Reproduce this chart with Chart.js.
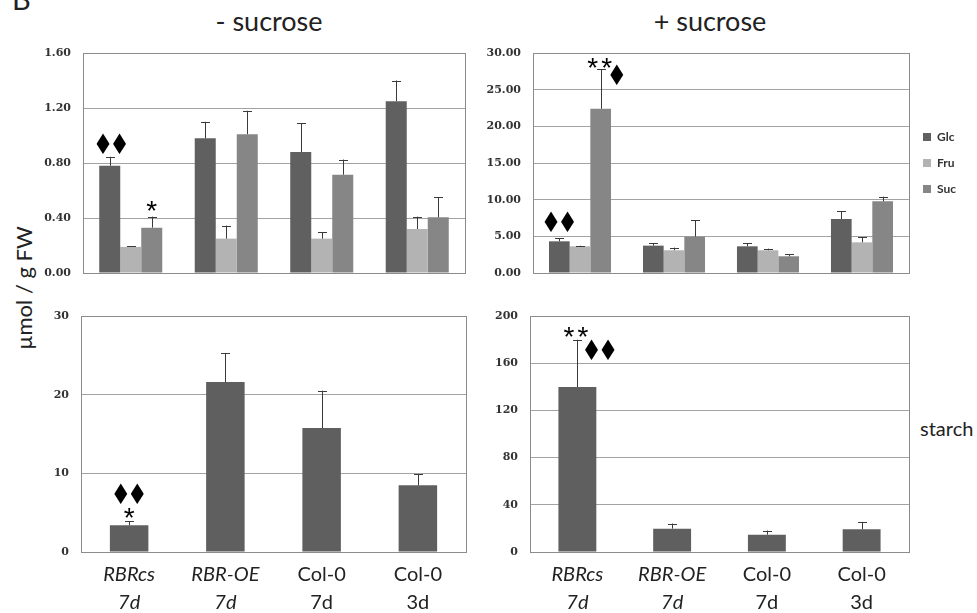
<!DOCTYPE html>
<html>
<head>
<meta charset="utf-8">
<script src="https://cdn.jsdelivr.net/npm/chart.js@4.4.1/dist/chart.umd.min.js"></script>
<style>
  html, body { margin: 0; padding: 0; background: #fff; }
  body { width: 977px; height: 613px; position: relative; overflow: hidden; font-family: Lato, sans-serif; color: #222; }
  canvas { position: absolute; }
  .txt { position: absolute; white-space: nowrap; }
</style>
</head>
<body>
<div class="txt" style="left:12px; top:-16px; font-size:29px; line-height:29px;">B</div>
<div class="txt" style="left:269px; top:4px; font-size:27px; transform:translateX(-50%);">- sucrose</div>
<div class="txt" style="left:710px; top:4px; font-size:27px; transform:translateX(-50%);">+ sucrose</div>
<div class="txt" style="left:23px; top:288px; font-size:22px; transform:translate(-50%,-50%) rotate(-90deg);">µmol / g FW</div>
<div class="txt" style="left:920px; top:415px; font-size:20px; line-height:26px;">starch</div>

<canvas id="tl" width="445" height="240" style="left:30px; top:43px;"></canvas>
<canvas id="tr" width="497" height="240" style="left:480px; top:43px;"></canvas>
<canvas id="bl" width="446" height="311" style="left:30px; top:306px;"></canvas>
<canvas id="br" width="441" height="311" style="left:478px; top:306px;"></canvas>

<script>
// categories (lines of each x label)
const categories = [['RBRcs', '7d'], ['RBR-OE', '7d'], ['Col-0', '7d'], ['Col-0', '3d']];
const sugars = ['Glc', 'Fru', 'Suc'];

// - sucrose, soluble sugars (µmol / g FW) and their error bars
const minusGlc = [0.78, 0.98, 0.88, 1.25];
const minusGlcErr = [0.065, 0.12, 0.21, 0.15];
const minusFru = [0.19, 0.25, 0.25, 0.32];
const minusFruErr = [0.005, 0.095, 0.045, 0.09];
const minusSuc = [0.33, 1.01, 0.715, 0.405];
const minusSucErr = [0.08, 0.17, 0.11, 0.145];

// + sucrose, soluble sugars
const plusGlc = [4.32, 3.73, 3.64, 7.36];
const plusGlcErr = [0.41, 0.32, 0.41, 1.09];
const plusFru = [3.64, 3.10, 3.10, 4.18];
const plusFruErr = [0.08, 0.36, 0.22, 0.68];
const plusSuc = [22.4, 4.96, 2.28, 9.77];
const plusSucErr = [5.4, 2.27, 0.31, 0.63];

// starch
const minusStarch = [3.41, 21.6, 15.75, 8.48];
const minusStarchErr = [0.5, 3.7, 4.75, 1.4];
const plusStarch = [139.8, 19.8, 14.7, 19.3];
const plusStarchErr = [40.1, 4.3, 3.5, 6.2];

// y axis ranges
const tlTicks = { max: 1.6, step: 0.4, digits: 2 };
const trTicks = { max: 30, step: 5, digits: 2 };
const blTicks = { max: 30, step: 10, digits: 0 };
const brTicks = { max: 200, step: 40, digits: 0 };

const colors = { Glc: '#606060', Fru: '#b3b3b3', Suc: '#868686', starch: '#5f5f5f' };

// error bars: only the upper half, with a cap
const errorBars = {
  id: 'errorBars',
  afterDatasetsDraw(chart) {
    const ctx = chart.ctx;
    const y = chart.scales.y;
    chart.data.datasets.forEach((ds, di) => {
      if (!ds.errors) return;
      chart.getDatasetMeta(di).data.forEach((bar, i) => {
        const top = y.getPixelForValue(ds.data[i] + ds.errors[i]);
        ctx.save();
        ctx.strokeStyle = '#3a3a3a';
        ctx.lineWidth = 1;
        ctx.beginPath();
        ctx.moveTo(Math.round(bar.x) + 0.5, bar.y);
        ctx.lineTo(Math.round(bar.x) + 0.5, top);
        ctx.moveTo(Math.round(bar.x) - 4, Math.round(top) + 0.5);
        ctx.lineTo(Math.round(bar.x) + 5, Math.round(top) + 0.5);
        ctx.stroke();
        ctx.restore();
      });
    });
  }
};

// frame round the plot area
const plotBox = {
  id: 'plotBox',
  beforeDatasetsDraw(chart) {
    const a = chart.chartArea;
    const ctx = chart.ctx;
    ctx.save();
    ctx.strokeStyle = '#8c8c8c';
    ctx.lineWidth = 1;
    ctx.strokeRect(Math.round(a.left) + 0.5, Math.round(a.top) + 0.5, Math.round(a.right - a.left), Math.round(a.bottom - a.top));
    ctx.restore();
  }
};

// significance marks, placed above the error bar of a bar
const marks = {
  id: 'marks',
  afterDatasetsDraw(chart, args, opts) {
    if (!opts.items) return;
    const ctx = chart.ctx;
    const y = chart.scales.y;
    opts.items.forEach(m => {
      const ds = chart.data.datasets[m.ds];
      const bar = chart.getDatasetMeta(m.ds).data[m.i];
      const top = y.getPixelForValue(ds.data[m.i] + ds.errors[m.i]);
      const chars = Array.from(m.text);
      const star = m.text.includes('*');
      const sp = star ? 14 : 16.5;
      chars.forEach((ch, k) => {
        const cx = bar.x + m.dx + (k - (chars.length - 1) / 2) * sp;
        ctx.save();
        ctx.translate(cx, top + m.dy);
        if (!star) ctx.scale(0.82, 1);
        ctx.fillStyle = '#000';
        ctx.textAlign = 'center';
        ctx.textBaseline = 'middle';
        ctx.font = star ? '28px "Liberation Sans"' : '28px "DejaVu Sans"';
        ctx.fillText(ch, 0, 0);
        ctx.restore();
      });
    });
  }
};

function yScale(t, w) {
  return {
    min: 0,
    max: t.max,
    afterFit(s) { s.width = w; },
    grid: { color: '#a3a3a3', drawTicks: true, tickLength: 12, tickColor: 'rgba(0,0,0,0)' },
    border: { display: false },
    ticks: {
      stepSize: t.step,
      padding: 0,
      color: '#333',
      font: { family: 'DejaVu Serif', size: 11, weight: 'bold' },
      callback: v => Number(v).toFixed(t.digits)
    }
  };
}

function sugarChart(id, data, errs, t, yw, showLegend, items, pad) {
  return new Chart(document.getElementById(id), {
    type: 'bar',
    data: {
      labels: categories,
      datasets: sugars.map((s, k) => ({
        label: s,
        data: data[k],
        errors: errs[k],
        backgroundColor: colors[s],
        categoryPercentage: 0.66,
        barPercentage: 1.0
      }))
    },
    options: {
      responsive: false,
      animation: false,
      events: [],
      layout: { padding: pad },
      scales: {
        x: { display: false },
        y: yScale(t, yw)
      },
      plugins: {
        legend: {
          display: showLegend,
          position: 'right',
          labels: {
            boxWidth: 8,
            boxHeight: 8,
            padding: 14,
            color: '#333',
            font: { family: 'Lato', size: 12, weight: 'bold' }
          }
        },
        tooltip: { enabled: false },
        marks: { items: items }
      }
    },
    plugins: [plotBox, errorBars, marks]
  });
}

function starchChart(id, data, errs, t, yw, items, pad) {
  return new Chart(document.getElementById(id), {
    type: 'bar',
    data: {
      labels: categories,
      datasets: [{
        label: 'starch',
        data: data,
        errors: errs,
        backgroundColor: colors.starch,
        categoryPercentage: 0.4,
        barPercentage: 1.0
      }]
    },
    options: {
      responsive: false,
      animation: false,
      events: [],
      layout: { padding: pad },
      scales: {
        x: {
          afterFit(s) { s.height = 65; },
          grid: { display: false, drawTicks: false },
          border: { display: false },
          ticks: {
            padding: 9,
            color: '#222',
            maxRotation: 0,
            font: c => ({ family: 'Lato', size: 20, lineHeight: 1.4, style: c.index < 2 ? 'italic' : 'normal' })
          }
        },
        y: yScale(t, yw)
      },
      plugins: {
        legend: { display: false },
        tooltip: { enabled: false },
        marks: { items: items }
      }
    },
    plugins: [plotBox, errorBars, marks]
  });
}

sugarChart('tl', [minusGlc, minusFru, minusSuc], [minusGlcErr, minusFruErr, minusSucErr], tlTicks, 53, false,
  [{ ds: 0, i: 0, text: '♦♦', dx: 1.5, dy: -10 },
   { ds: 2, i: 0, text: '*', dx: 0, dy: -4 }],
  { top: 10, right: 10, bottom: 10, left: 0 });

sugarChart('tr', [plusGlc, plusFru, plusSuc], [plusGlcErr, plusFruErr, plusSucErr], trTicks, 53, true,
  [{ ds: 0, i: 0, text: '♦♦', dx: 0, dy: -14 },
   { ds: 2, i: 0, text: '**', dx: -1, dy: 0 },
   { ds: 2, i: 0, text: '♦', dx: 16, dy: 9 }],
  { top: 10, right: 11, bottom: 10, left: 0 });

starchChart('bl', minusStarch, minusStarchErr, blTicks, 51,
  [{ ds: 0, i: 0, text: '♦♦', dx: 0, dy: -25 },
   { ds: 0, i: 0, text: '*', dx: 0, dy: -2 }],
  { top: 10, right: 10, bottom: 0, left: 0 });

starchChart('br', plusStarch, plusStarchErr, brTicks, 52,
  [{ ds: 0, i: 0, text: '**', dx: -1.5, dy: -1 },
   { ds: 0, i: 0, text: '♦♦', dx: 22.5, dy: 13 }],
  { top: 10, right: 10, bottom: 0, left: 0 });
</script>
</body>
</html>
